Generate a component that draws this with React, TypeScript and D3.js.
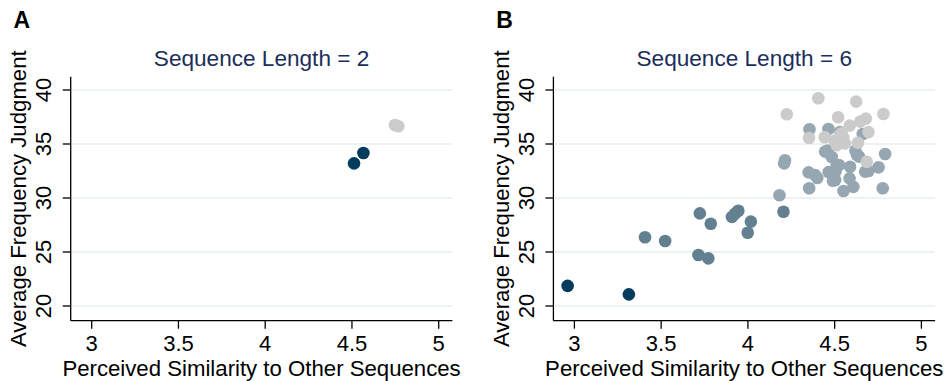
import React from "react";
import * as d3 from "d3";

const xTicks = [3, 3.5, 4, 4.5, 5];
const yTicks = [20, 25, 30, 35, 40];
const panelLabels = ["A", "B"];
const panelTitles = ["Sequence Length = 2", "Sequence Length = 6"];
const xTitle = "Perceived Similarity to Other Sequences";
const yTitle = "Average Frequency Judgment";

// Panel A
const aDark: [number, number][] = [[4.512, 33.21], [4.566, 34.17]];
const aGrey: [number, number][] = [[4.748, 36.76], [4.767, 36.65]];

// Panel B
const bDark: [number, number][] = [[2.961, 21.86], [3.314, 21.08]];
const bSlate: [number, number][] = [
  [3.407, 26.36], [3.523, 26.02], [3.723, 28.58], [3.786, 27.62], [3.715, 24.72],
  [3.772, 24.41], [3.908, 28.25], [3.926, 28.55], [3.945, 28.82], [4.017, 27.81],
  [3.999, 26.78], [4.205, 28.73],
];
const bBlueGrey: [number, number][] = [
  [4.182, 30.26], [4.209, 33.21], [4.214, 33.5], [4.355, 36.36], [4.464, 36.39],
  [4.662, 35.92], [4.53, 36.1], [4.445, 34.29], [4.46, 34.4], [4.483, 33.8],
  [4.512, 33.06], [4.525, 33.06], [4.465, 32.4], [4.505, 32.45], [4.49, 31.6],
  [4.503, 31.67], [4.387, 32.13], [4.35, 32.37], [4.4, 31.85], [4.353, 30.9],
  [4.589, 32.9], [4.586, 31.82], [4.551, 30.65], [4.608, 31.03], [4.628, 34.0],
  [4.62, 34.38], [4.641, 33.83], [4.676, 32.44], [4.695, 32.5], [4.753, 32.84],
  [4.791, 34.07], [4.777, 30.9],
];
const bGrey: [number, number][] = [
  [4.406, 39.23], [4.624, 38.92], [4.224, 37.75], [4.781, 37.78], [4.52, 37.47],
  [4.68, 37.35], [4.647, 37.07], [4.587, 36.7], [4.695, 36.1], [4.352, 35.56],
  [4.443, 35.62], [4.531, 35.83], [4.54, 36.0], [4.55, 35.6], [4.5, 35.3],
  [4.634, 35.1], [4.512, 34.88], [4.56, 35.06], [4.685, 33.36],
];

const COLORS = {
  dark: "#023b5c",
  slate: "#62808f",
  blueGrey: "#97a7b1",
  grey: "#cbcbcb",
  title: "#1b2e5a",
  grid: "#e7eff1",
};

const FONT = "'Liberation Sans', Arial, Helvetica, sans-serif";

type Series = { data: [number, number][]; color: string };

function Panel({ offsetX, label, title, series }: { offsetX: number; label: string; title: string; series: Series[] }) {
  const x = d3.scaleLinear().domain([3, 5]).range([91.7 + offsetX, 438.7 + offsetX]);
  const y = d3.scaleLinear().domain([20, 40]).range([306, 90]);
  const left = x(2.879);
  const right = x(5.079);
  const top = y(41.23);
  const bottom = y(18.64);
  const cx = (left + right) / 2;
  const cy = (top + bottom) / 2;
  return (
    <g fontFamily={FONT}>
      <text x={13.5 + offsetX} y={28} fontSize={23} fontWeight="bold" fill="#000">{label}</text>
      <text x={cx} y={66} fontSize={22.6} textAnchor="middle" fill={COLORS.title}>{title}</text>
      {yTicks.map((t) => (
        <line key={"g" + t} x1={left + 1} x2={right} y1={y(t)} y2={y(t)} stroke={COLORS.grid} strokeWidth={1.6} />
      ))}
      {series.map((s, si) =>
        s.data.map((d, i) => (
          <circle key={si + "-" + i} cx={x(d[0])} cy={y(d[1])} r={6.3} fill={s.color} />
        ))
      )}
      <line x1={left} x2={left} y1={top} y2={bottom} stroke="#000" strokeWidth={1.3} />
      <line x1={left} x2={right} y1={bottom} y2={bottom} stroke="#000" strokeWidth={1.3} />
      {yTicks.map((t) => (
        <g key={"y" + t}>
          <line x1={left - 8} x2={left} y1={y(t)} y2={y(t)} stroke="#000" strokeWidth={1.3} />
          <text transform={`translate(${left - 19.5},${y(t)}) rotate(-90)`} fontSize={22} textAnchor="middle" fill="#000">{t}</text>
        </g>
      ))}
      {xTicks.map((t) => (
        <g key={"x" + t}>
          <line x1={x(t)} x2={x(t)} y1={bottom} y2={bottom + 8} stroke="#000" strokeWidth={1.3} />
          <text x={x(t)} y={350.5} fontSize={22} textAnchor="middle" fill="#000">{t}</text>
        </g>
      ))}
      <text x={cx} y={375.5} fontSize={22.2} textAnchor="middle" fill="#000">{xTitle}</text>
      <text transform={`translate(${offsetX + 26},${cy}) rotate(-90)`} fontSize={22.2} textAnchor="middle" fill="#000">{yTitle}</text>
    </g>
  );
}

export default function App() {
  return (
    <svg width={948} height={381} style={{ position: "fixed", left: 0, top: 0, background: "#fff" }}>
      <rect width={948} height={381} fill="#fff" />
      <Panel
        offsetX={0}
        label={panelLabels[0]}
        title={panelTitles[0]}
        series={[
          { data: aGrey, color: COLORS.grey },
          { data: aDark, color: COLORS.dark },
        ]}
      />
      <Panel
        offsetX={482.7}
        label={panelLabels[1]}
        title={panelTitles[1]}
        series={[
          { data: bDark, color: COLORS.dark },
          { data: bSlate, color: COLORS.slate },
          { data: bBlueGrey, color: COLORS.blueGrey },
          { data: bGrey, color: COLORS.grey },
        ]}
      />
    </svg>
  );
}
